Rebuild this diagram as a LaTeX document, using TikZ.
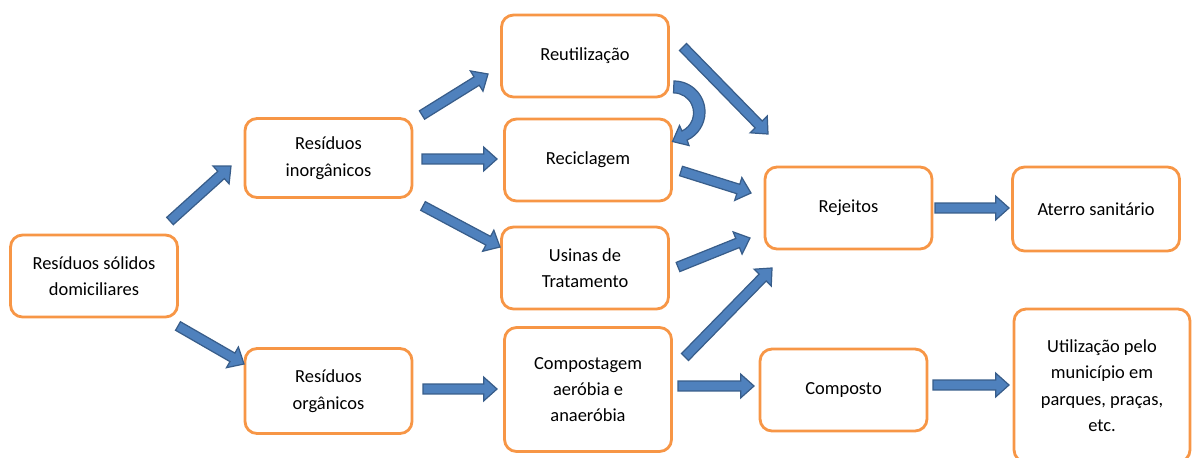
\documentclass[tikz,border=0pt]{standalone}
\usepackage{fontspec}
\setmainfont{Carlito}
\usetikzlibrary{calc}

\definecolor{boxorange}{HTML}{F79646}
\definecolor{arrowblue}{HTML}{4F81BD}
\definecolor{arrowdark}{HTML}{385D8A}

% half shaft width, half head width, head length
\newcommand{\shw}{2.8pt}
\newcommand{\hhw}{6.8pt}
\newcommand{\hdl}{7.6pt}
% block arrow from #1 to #2
\newcommand{\barrow}[2]{%
	\coordinate (hb) at ($(#2)!\hdl!(#1)$);
	\path[blockarrow] ($(#1)!\shw!90:(#2)$) -- ($(hb)!\shw!90:(#2)$)
		-- ($(hb)!\hhw!90:(#2)$) -- (#2) -- ($(hb)!\hhw!-90:(#2)$)
		-- ($(hb)!\shw!-90:(#2)$) -- ($(#1)!\shw!-90:(#2)$) -- cycle;
}

\tikzset{
	box/.style={draw=boxorange, line width=1.6pt, rounded corners=0.24cm,
		fill=white, align=center, minimum width=3.34cm, minimum height=1.64cm,
		font=\fontsize{10.5}{15}\selectfont},
	blockarrow/.style={fill=arrowblue, draw=arrowdark, line width=0.7pt}
}

\begin{document}
\begin{tikzpicture}[x=0.02cm, y=-0.02cm]
	\useasboundingbox (0,0) rectangle (1195,457);
	% nodes
	\node[box] (rsd) at (94,276) {Resíduos sólidos\\domiciliares};
	\node[box, minimum height=1.58cm] (inorg) at (328.5,158) {Resíduos\\inorgânicos};
	\node[box, minimum height=1.7cm] (org) at (328.5,391) {Resíduos\\orgânicos};
	\node[box] (reut) at (585,56) {Reutilização};
	\node[box] (recic) at (588,160) {Reciclagem};
	\node[box] (usinas) at (585,268) {Usinas de\\Tratamento};
	\node[box, minimum height=2.48cm] (compost) at (588,389.5) {Compostagem\\aeróbia e\\anaeróbia};
	\node[box] (rej) at (848.5,208) {Rejeitos};
	\node[box, minimum height=1.68cm] (aterro) at (1096,209) {Aterro sanitário};
	\node[box] (composto) at (843.5,390) {Composto};
	\node[box, minimum width=3.52cm, minimum height=3.06cm] (util) at (1102,385.5)
		{Utilização pelo\\município em\\parques, praças,\\etc.};
	%
	% arrow ends
	\coordinate (rsd-a) at (170,221);      \coordinate (inorg-a) at (231,166);
	\coordinate (rsd-b) at (178,326);      \coordinate (org-a) at (244,364);
	\coordinate (inorg-b) at (422,115);    \coordinate (reut-a) at (488,74);
	\coordinate (inorg-c) at (422,159);    \coordinate (recic-a) at (497,159);
	\coordinate (inorg-d) at (423,206);    \coordinate (usinas-a) at (500,247);
	\coordinate (reut-b) at (683,47);      \coordinate (rej-a) at (768,134);
	\coordinate (recic-b) at (681,171);    \coordinate (rej-b) at (751,193);
	\coordinate (usinas-b) at (678,267);   \coordinate (rej-c) at (750,238);
	\coordinate (compost-a) at (685,357);  \coordinate (rej-d) at (772,268);
	\coordinate (org-b) at (423,389);      \coordinate (compost-b) at (497,389);
	\coordinate (compost-c) at (678,386);  \coordinate (composto-a) at (754,386);
	\coordinate (rej-e) at (935,208);      \coordinate (aterro-a) at (1009,208);
	\coordinate (composto-b) at (933,385); \coordinate (util-a) at (1009,385);
	%
	% block arrows
	\barrow{rsd-a}{inorg-a}
	\barrow{rsd-b}{org-a}
	\barrow{inorg-b}{reut-a}
	\barrow{inorg-c}{recic-a}
	\barrow{inorg-d}{usinas-a}
	\barrow{reut-b}{rej-a}
	\barrow{recic-b}{rej-b}
	\barrow{usinas-b}{rej-c}
	\barrow{compost-a}{rej-d}
	\barrow{org-b}{compost-b}
	\barrow{compost-c}{composto-a}
	\barrow{rej-e}{aterro-a}
	\barrow{composto-b}{util-a}
	% curved arrow Reutilizacao -> Reciclagem
	\path[blockarrow] (674,81) arc[start angle=-90, end angle=65, radius=31]
		-- (689,145.5) -- (672.5,141.5) -- (679.5,125.5) -- (682,131)
		arc[start angle=65, end angle=-90, radius=20] -- cycle;
\end{tikzpicture}
\end{document}
